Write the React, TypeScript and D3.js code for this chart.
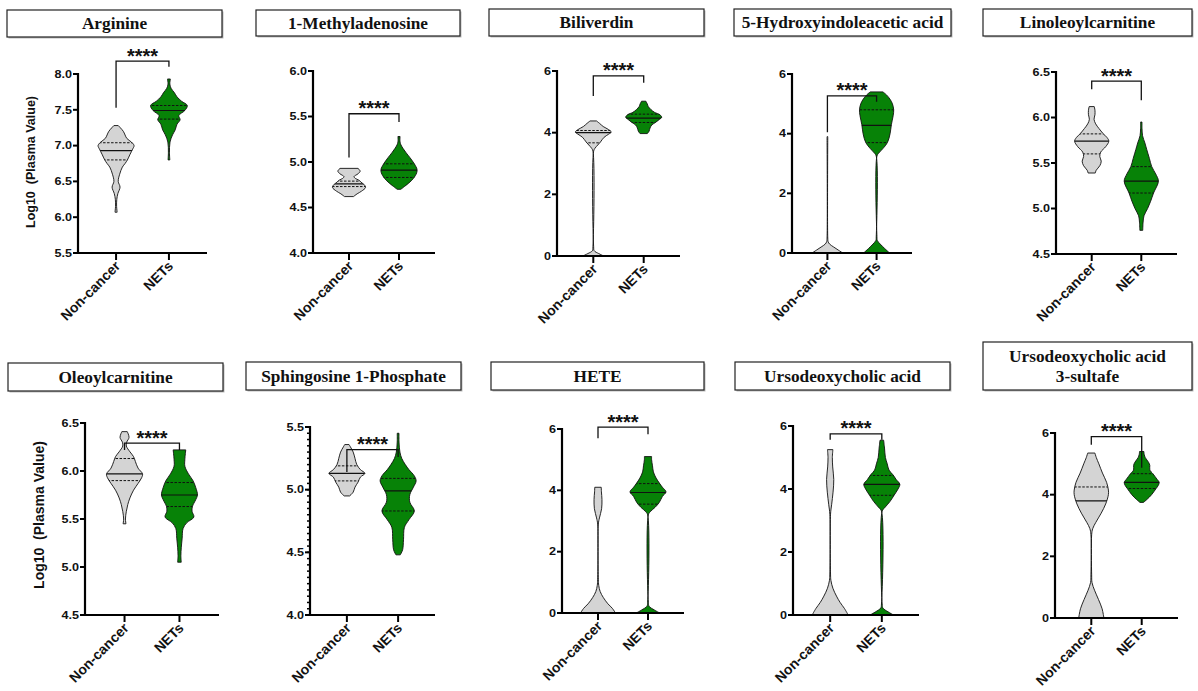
import React from "react";
import * as d3 from "d3";

type Prof = [number, number][];
type Stats = [number | null, number | null, number | null] | null;

const CATEGORIES = ["Non-cancer", "NETs"];
const SIGNIF = "****";
const Y_LABEL = "Log10  (Plasma Value)";

const TITLES: string[][] = [
  ["Arginine"], ["1-Methyladenosine"], ["Biliverdin"], ["5-Hydroxyindoleacetic acid"], ["Linoleoylcarnitine"],
  ["Oleoylcarnitine"], ["Sphingosine 1-Phosphate"], ["HETE"], ["Ursodeoxycholic acid"], ["Ursodeoxycholic acid", "3-sultafe"],
];

const Y_DOMAINS: [number, number][] = [
  [5.5, 8], [4, 6], [0, 6], [0, 6], [4.5, 6.5], [4.5, 6.5], [4, 5.5], [0, 6], [0, 6], [0, 6],
];

const Y_TICKS: number[][] = [
  [5.5, 6, 6.5, 7, 7.5, 8], [4, 4.5, 5, 5.5, 6], [0, 2, 4, 6], [0, 2, 4, 6], [4.5, 5, 5.5, 6, 6.5],
  [4.5, 5, 5.5, 6, 6.5], [4, 4.5, 5, 5.5], [0, 2, 4, 6], [0, 2, 4, 6], [0, 2, 4, 6],
];

const MINOR_STEP: (number | null)[] = [null, null, null, null, null, null, 0.05, null, null, null];

// violin profiles: [value, relative half width]
const NC_PROFILES: Prof[] = [
  [[6.07, 0.06], [6.15, 0.03], [6.25, 0.04], [6.33, 0.1], [6.42, 0.22], [6.5, 0.12], [6.6, 0.2], [6.7, 0.35], [6.75, 0.5], [6.8, 0.63], [6.88, 0.78], [6.95, 0.92], [7.0, 1.0], [7.05, 0.85], [7.1, 0.6], [7.2, 0.4], [7.28, 0.12]],
  [[4.62, 0.25], [4.65, 0.45], [4.68, 0.7], [4.72, 0.92], [4.75, 0.85], [4.77, 0.72], [4.8, 0.55], [4.82, 0.35], [4.84, 0.28], [4.87, 0.5], [4.9, 0.62], [4.93, 0.5]],
  [[0, 0.58], [0.08, 0.3], [0.17, 0.05], [0.3, 0.02], [3.4, 0.02], [3.5, 0.1], [3.6, 0.25], [3.7, 0.4], [3.85, 0.6], [3.95, 0.85], [4.02, 1.0], [4.1, 0.85], [4.2, 0.55], [4.3, 0.35], [4.38, 0.18]],
  [[0, 0.85], [0.1, 0.6], [0.2, 0.35], [0.3, 0.12], [0.38, 0.04], [0.5, 0.02], [3.9, 0.02]],
  [[5.39, 0.2], [5.42, 0.25], [5.47, 0.45], [5.52, 0.53], [5.57, 0.45], [5.62, 0.5], [5.68, 0.78], [5.74, 0.95], [5.78, 0.85], [5.83, 0.6], [5.88, 0.4], [5.93, 0.22], [5.98, 0.13], [6.03, 0.18], [6.08, 0.18], [6.12, 0.14]],
  [[5.45, 0.08], [5.5, 0.05], [5.58, 0.1], [5.65, 0.18], [5.72, 0.3], [5.8, 0.5], [5.87, 0.75], [5.93, 0.95], [5.97, 1.0], [6.03, 0.75], [6.1, 0.6], [6.15, 0.5], [6.2, 0.3], [6.26, 0.1], [6.3, 0.12], [6.35, 0.25], [6.41, 0.15]],
  [[4.95, 0.15], [4.98, 0.35], [5.02, 0.45], [5.06, 0.62], [5.1, 0.75], [5.13, 1.0], [5.16, 0.75], [5.2, 0.55], [5.25, 0.45], [5.3, 0.35], [5.34, 0.2], [5.36, 0.12]],
  [[0, 0.97], [0.15, 0.8], [0.3, 0.55], [0.5, 0.3], [0.7, 0.12], [0.9, 0.04], [1.1, 0.02], [2.9, 0.02], [3.1, 0.08], [3.4, 0.2], [3.7, 0.22], [3.95, 0.19], [4.1, 0.18]],
  [[0, 1.0], [0.2, 0.8], [0.4, 0.55], [0.6, 0.35], [0.85, 0.15], [1.1, 0.04], [1.3, 0.02], [3.2, 0.02], [3.5, 0.08], [3.9, 0.16], [4.3, 0.2], [4.7, 0.14], [5.0, 0.12], [5.25, 0.15]],
  [[0, 0.7], [0.3, 0.6], [0.6, 0.4], [0.9, 0.18], [1.15, 0.04], [1.4, 0.02], [2.7, 0.02], [2.9, 0.08], [3.1, 0.25], [3.4, 0.55], [3.7, 0.8], [4.0, 0.95], [4.15, 0.95], [4.4, 0.85], [4.7, 0.62], [5.0, 0.42], [5.2, 0.28], [5.35, 0.2]],
];

const NETS_PROFILES: Prof[] = [
  [[6.8, 0.05], [6.9, 0.03], [7.05, 0.06], [7.15, 0.2], [7.22, 0.35], [7.3, 0.45], [7.36, 0.62], [7.42, 0.55], [7.49, 0.88], [7.56, 1.02], [7.62, 0.7], [7.68, 0.45], [7.74, 0.3], [7.8, 0.12], [7.86, 0.05], [7.93, 0.08]],
  [[4.7, 0.1], [4.73, 0.3], [4.77, 0.55], [4.82, 0.8], [4.88, 0.98], [4.92, 1.0], [4.98, 0.85], [5.05, 0.6], [5.1, 0.4], [5.15, 0.22], [5.2, 0.08], [5.24, 0.05], [5.28, 0.06]],
  [[3.97, 0.2], [4.05, 0.3], [4.15, 0.35], [4.25, 0.45], [4.33, 0.65], [4.42, 0.85], [4.5, 1.0], [4.58, 0.9], [4.66, 0.6], [4.75, 0.4], [4.85, 0.25], [4.93, 0.2], [5.02, 0.12]],
  [[0, 0.72], [0.15, 0.45], [0.3, 0.2], [0.42, 0.04], [0.55, 0.02], [3.25, 0.02], [3.35, 0.12], [3.5, 0.35], [3.7, 0.6], [4.0, 0.75], [4.3, 0.82], [4.6, 0.92], [4.8, 0.95], [5.0, 0.88], [5.15, 0.75], [5.3, 0.55], [5.4, 0.35]],
  [[4.76, 0.08], [4.85, 0.1], [4.92, 0.15], [5.0, 0.35], [5.08, 0.52], [5.17, 0.68], [5.3, 0.95], [5.38, 0.8], [5.46, 0.58], [5.55, 0.45], [5.65, 0.3], [5.72, 0.2], [5.8, 0.07], [5.88, 0.04], [5.95, 0.04]],
  [[5.05, 0.1], [5.12, 0.08], [5.2, 0.1], [5.3, 0.15], [5.4, 0.2], [5.46, 0.4], [5.52, 0.8], [5.58, 0.7], [5.63, 0.72], [5.7, 0.9], [5.75, 1.0], [5.83, 0.9], [5.9, 0.75], [5.97, 0.5], [6.05, 0.3], [6.12, 0.3], [6.22, 0.35]],
  [[4.48, 0.12], [4.52, 0.25], [4.6, 0.3], [4.7, 0.35], [4.76, 0.6], [4.83, 0.9], [4.9, 0.65], [4.96, 0.65], [5.02, 0.85], [5.07, 1.0], [5.11, 0.9], [5.16, 0.6], [5.2, 0.4], [5.25, 0.2], [5.3, 0.1], [5.38, 0.05], [5.45, 0.05]],
  [[0, 0.65], [0.1, 0.35], [0.22, 0.06], [0.35, 0.02], [3.2, 0.02], [3.3, 0.12], [3.45, 0.4], [3.6, 0.62], [3.8, 0.8], [3.95, 1.0], [4.1, 0.8], [4.22, 0.65], [4.4, 0.45], [4.6, 0.3], [4.8, 0.25], [5.0, 0.2], [5.1, 0.2]],
  [[0, 0.65], [0.1, 0.35], [0.22, 0.06], [0.35, 0.02], [3.3, 0.02], [3.4, 0.15], [3.6, 0.45], [3.8, 0.68], [4.0, 0.9], [4.15, 1.0], [4.3, 0.8], [4.45, 0.62], [4.6, 0.4], [4.8, 0.3], [5.0, 0.2], [5.3, 0.15], [5.55, 0.1]],
  [[3.75, 0.1], [3.85, 0.3], [4.0, 0.55], [4.2, 0.8], [4.3, 0.92], [4.4, 0.97], [4.5, 0.85], [4.68, 0.62], [4.8, 0.45], [4.95, 0.45], [5.05, 0.38], [5.2, 0.2], [5.3, 0.14], [5.4, 0.12]],
];

// [q1, median, q3]
const NC_STATS: Stats[] = [
  [6.8, 6.93, 7.04], [4.73, 4.76, 4.79], [3.67, 4.0, 4.07], null, [5.6, 5.74, 5.82],
  [5.9, 5.97, 6.13], [5.07, 5.13, 5.19], null, null, [null, 3.8, 4.25],
];
const NETS_STATS: Stats[] = [
  [7.37, 7.49, 7.56], [4.83, 4.91, 4.98], [4.33, 4.47, 4.6], [3.7, 4.28, 4.8], [5.17, 5.3, 5.46],
  [5.63, 5.75, 5.88], [4.83, 4.99, 5.09], [3.55, 3.93, 4.22], [3.8, 4.15, 4.43], [4.2, 4.4, 4.68],
];

// significance bracket: [top, left leg end, right leg end] in data units
const BRACKETS: [number, number, number][] = [
  [8.18, 7.53, 8.1], [5.53, 5.05, 5.44], [5.84, 5.19, 5.62], [5.27, 4.05, 5.07], [6.4, 6.31, 6.19],
  [6.29, 6.22, 6.22], [5.32, 5.14, 5.26], [6.06, 5.7, 5.83], [5.75, 5.56, 5.56], [5.88, 5.62, 4.87],
];

// layout (pixels)
const LAYOUT = [
  { box: [7, 10, 222, 37], ax: 78, xEnd: 207, yB: 253, yT: 74, ylab: [32, 162, 12.5] },
  { box: [256, 10, 460, 36], ax: 313, xEnd: 435, yB: 253, yT: 71 },
  { box: [489, 9, 704, 36], ax: 557, xEnd: 680, yB: 256, yT: 71 },
  { box: [734, 9, 951, 36], ax: 792, xEnd: 912, yB: 253, yT: 74 },
  { box: [983, 9, 1192, 36], ax: 1056, xEnd: 1177, yB: 254, yT: 72 },
  { box: [8, 363, 223, 391], ax: 85, xEnd: 219, yB: 615, yT: 423, ylab: [40, 515, 14] },
  { box: [246, 362, 461, 390], ax: 310, xEnd: 435, yB: 615, yT: 427 },
  { box: [491, 362, 704, 390], ax: 562, xEnd: 684, yB: 613, yT: 429 },
  { box: [735, 362, 950, 390], ax: 793, xEnd: 919, yB: 615, yT: 426 },
  { box: [983, 342, 1192, 390], ax: 1055, xEnd: 1178, yB: 618, yT: 433 },
] as { box: number[]; ax: number; xEnd: number; yB: number; yT: number; ylab?: number[] }[];

const SANS = "'Liberation Sans', Arial, sans-serif";
const SERIF = "'Liberation Serif', 'Times New Roman', serif";
const GRAY = "#d4d4d4";
const GREEN = "#078207";

function Violin({ id, prof, stats, cx, y, fill }: { id: string; prof: Prof; stats: Stats; cx: number; y: d3.ScaleLinear<number, number>; fill: string }) {
  const w = d3.scaleLinear().domain([0, 1]).range([0, 18]);
  const area = d3
    .area<[number, number]>()
    .y((d) => y(d[0]))
    .x0((d) => cx - w(d[1]))
    .x1((d) => cx + w(d[1]))
    .curve(d3.curveCatmullRom.alpha(0.5));
  const path = area(prof) || "";
  const lines = stats ? stats.map((v, k) => ({ v, k })).filter((o) => o.v !== null) : [];
  return (
    <g>
      <defs>
        <clipPath id={id}>
          <path d={path} />
        </clipPath>
      </defs>
      <path d={path} fill={fill} stroke="none" />
      <g clipPath={`url(#${id})`}>
        {lines.map(({ v, k }) => (
          <line
            key={k}
            x1={cx - 25}
            x2={cx + 25}
            y1={y(v as number)}
            y2={y(v as number)}
            stroke="#111"
            strokeWidth={k === 1 ? 1.2 : 1}
            strokeDasharray={k === 1 ? undefined : "2.5,1.5"}
          />
        ))}
      </g>
      <path d={path} fill="none" stroke="#111" strokeWidth={0.9} strokeLinejoin="round" />
    </g>
  );
}

function Panel({ i }: { i: number }) {
  const L = LAYOUT[i];
  const y = d3.scaleLinear().domain(Y_DOMAINS[i]).range([L.yB, L.yT]);
  const x = d3.scalePoint<string>().domain(CATEGORIES).range([L.ax, L.xEnd]).padding(0.72);
  const fmt = Y_DOMAINS[i][1] - Y_DOMAINS[i][0] > 3 ? d3.format("d") : d3.format(".1f");
  const [bx0, by0, bx1, by1] = L.box;
  const title = TITLES[i];
  const tcx = (bx0 + bx1) / 2;
  const tcy = (by0 + by1) / 2;
  const minor = MINOR_STEP[i];
  const minorTicks = minor ? d3.range(Y_DOMAINS[i][0], Y_DOMAINS[i][1] + 1e-6, minor) : [];
  const [bt, bl, br] = BRACKETS[i];
  const xl = x(CATEGORIES[0]) as number;
  const xr = x(CATEGORIES[1]) as number;
  return (
    <g>
      {/* title box */}
      <rect x={bx0 + 1.5} y={by0 + 1.5} width={bx1 - bx0} height={by1 - by0} fill="#bbb" />
      <rect x={bx0} y={by0} width={bx1 - bx0} height={by1 - by0} fill="#fff" stroke="#222" strokeWidth={1.2} />
      {title.map((t, k) => (
        <text
          key={k}
          transform={`translate(${tcx},${tcy + 5.5 + (k - (title.length - 1) / 2) * 20}) scale(1.08,1)`}
          textAnchor="middle"
          fontFamily={SERIF}
          fontWeight="bold"
          fontSize={16}
          fill="#111"
        >
          {t}
        </text>
      ))}
      {/* violins */}
      <Violin id={`c${i}a`} prof={NC_PROFILES[i]} stats={NC_STATS[i]} cx={xl} y={y} fill={GRAY} />
      <Violin id={`c${i}b`} prof={NETS_PROFILES[i]} stats={NETS_STATS[i]} cx={xr} y={y} fill={GREEN} />
      {/* axes */}
      <line x1={L.ax} x2={L.ax} y1={L.yB + 1} y2={L.yT - 1} stroke="#000" strokeWidth={2.2} />
      <line x1={L.ax - 1} x2={L.xEnd} y1={L.yB} y2={L.yB} stroke="#000" strokeWidth={2.2} />
      {minorTicks.map((v, k) => (
        <line key={`m${k}`} x1={L.ax - 3} x2={L.ax} y1={y(v)} y2={y(v)} stroke="#000" strokeWidth={1.5} />
      ))}
      {Y_TICKS[i].map((v) => (
        <g key={v}>
          <line x1={L.ax - 5} x2={L.ax} y1={y(v)} y2={y(v)} stroke="#000" strokeWidth={2} />
          <text
            transform={`translate(${L.ax - 6},${y(v) + 3.8}) scale(1.2,1)`}
            textAnchor="end"
            fontFamily={SANS}
            fontWeight="bold"
            fontSize={10.5}
            fill="#111"
          >
            {fmt(v)}
          </text>
        </g>
      ))}
      {CATEGORIES.map((c) => (
        <g key={c}>
          <line x1={x(c)} x2={x(c)} y1={L.yB} y2={L.yB + 7} stroke="#000" strokeWidth={2} />
          <text
            transform={`translate(${(x(c) as number) + 5},${L.yB + 14}) rotate(-45)`}
            textAnchor="end"
            fontFamily={SANS}
            fontWeight="bold"
            fontSize={14}
            fill="#111"
          >
            {c}
          </text>
        </g>
      ))}
      {/* bracket */}
      <path
        d={`M${xl},${y(bl)}V${y(bt)}H${xr}V${y(br)}`}
        fill="none"
        stroke="#111"
        strokeWidth={1.3}
      />
      <text
        x={(xl + xr) / 2}
        y={y(bt) + 1.5}
        textAnchor="middle"
        fontFamily={SANS}
        fontWeight="bold"
        fontSize={20}
        fill="#111"
      >
        {SIGNIF}
      </text>
      {L.ylab && (
        <text
          transform={`translate(${L.ylab[0]},${L.ylab[1]}) rotate(-90)`}
          textAnchor="middle"
          dominantBaseline="middle"
          fontFamily={SANS}
          fontWeight="bold"
          fontSize={L.ylab[2]}
          fill="#111"
          style={{ whiteSpace: "pre" }}
        >
          {Y_LABEL}
        </text>
      )}
    </g>
  );
}

export default function App() {
  return (
    <svg
      width={1198}
      height={691}
      viewBox="0 0 1198 691"
      style={{ position: "absolute", left: 0, top: 0, background: "#fff" }}
    >
      <rect width={1198} height={691} fill="#fff" />
      {TITLES.map((_, i) => (
        <Panel key={i} i={i} />
      ))}
    </svg>
  );
}
